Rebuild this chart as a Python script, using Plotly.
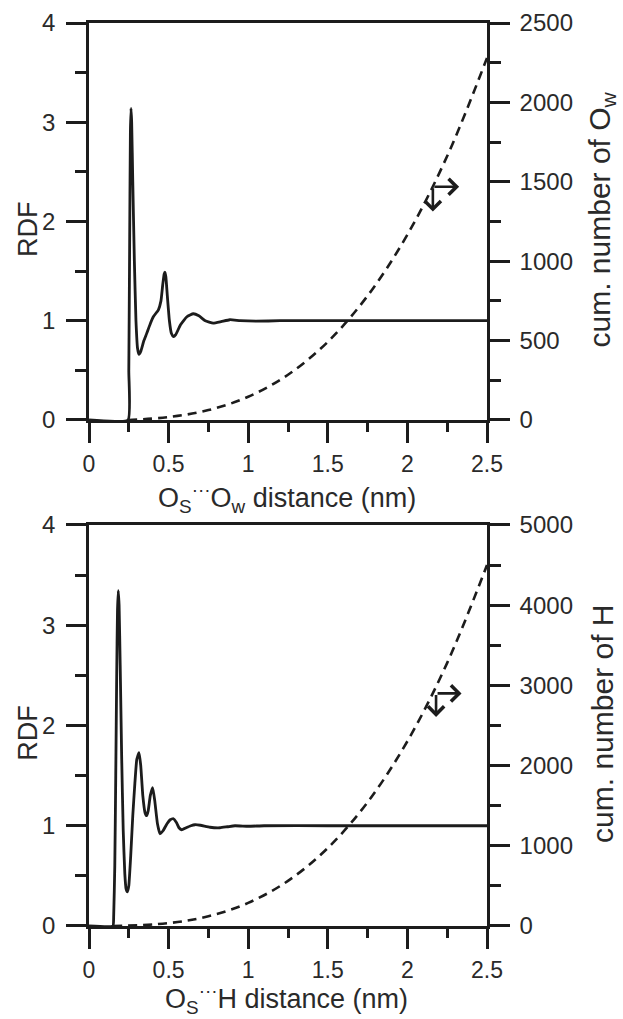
import plotly.graph_objects as go

# ---------------- data ----------------
# Top panel: O_S...O_w radial distribution function
r_oo = [0.0, 0.245, 0.25, 0.255, 0.26, 0.264, 0.268, 0.275, 0.285, 0.295, 0.305, 0.314,
        0.325, 0.345, 0.362, 0.385, 0.404, 0.436, 0.452, 0.463, 0.472, 0.477, 0.483,
        0.492, 0.505, 0.518, 0.53, 0.545, 0.575, 0.615, 0.655, 0.69, 0.73, 0.78, 0.83,
        0.885, 0.95, 1.05, 1.2, 1.5, 2.0, 2.5]
g_oo = [0.0, 0.0, 0.5, 1.7, 2.9, 3.14, 3.0, 2.4, 1.6, 1.0, 0.72, 0.66,
        0.69, 0.8, 0.87, 0.97, 1.04, 1.11, 1.2, 1.36, 1.47, 1.49, 1.44,
        1.25, 1.0, 0.87, 0.84, 0.86, 0.96, 1.04, 1.07, 1.05, 1.0, 0.975, 0.99,
        1.01, 1.0, 0.995, 1.0, 1.0, 1.0, 1.0]

# Top panel: cumulative number of O_w
r_cum_ow = [0.245, 0.5, 0.75, 1.0, 1.25, 1.5, 1.75, 2.0, 2.25, 2.5]
n_ow = [0, 18, 62, 146, 285, 492, 782, 1167, 1662, 2280]

# Bottom panel: O_S...H radial distribution function
r_oh = [0.0, 0.15, 0.155, 0.162, 0.168, 0.174, 0.179, 0.184, 0.189, 0.196, 0.205, 0.215,
        0.225, 0.233, 0.241, 0.25, 0.262, 0.275, 0.288, 0.30, 0.314, 0.325, 0.338,
        0.352, 0.362, 0.372, 0.385, 0.40, 0.413, 0.43, 0.446, 0.465, 0.49, 0.51, 0.53,
        0.55, 0.565, 0.582, 0.61, 0.64, 0.666, 0.70, 0.76, 0.823, 0.87, 0.917, 1.0,
        1.1, 1.5, 2.0, 2.5]
g_oh = [0.0, 0.0, 0.1, 0.6, 1.5, 2.5, 3.15, 3.345, 3.2, 2.6, 1.7, 0.95,
        0.52, 0.37, 0.34, 0.4, 0.7, 1.1, 1.42, 1.66, 1.73, 1.6, 1.3,
        1.13, 1.10, 1.15, 1.3, 1.38, 1.25, 1.02, 0.92, 0.95, 1.02, 1.06, 1.07,
        1.03, 0.98, 0.96, 0.98, 1.0, 1.01, 1.005, 0.985, 0.98, 0.99, 1.0, 0.995,
        1.0, 1.0, 1.0, 1.0]

# Bottom panel: cumulative number of H
r_cum_h = [0.15, 0.5, 0.75, 1.0, 1.25, 1.5, 1.75, 2.0, 2.25, 2.5]
n_h = [0, 36, 122, 288, 563, 972, 1544, 2304, 3281, 4500]

x_ticks = [0, 0.5, 1, 1.5, 2, 2.5]
x_ticktext = ["0", "0.5", "1", "1.5", "2", "2.5"]

# ---------------- styling ----------------
INK = "#1c1c1c"
TXT = "#2a2a2a"
FONT = "Liberation Sans, Arial, sans-serif"
TICKF = dict(family=FONT, size=24, color=TXT)
XTICKF = dict(family=FONT, size=23, color=TXT)
LW = 2.6

fig = go.Figure()
fig.add_trace(go.Scatter(x=r_oo, y=g_oo, mode="lines", xaxis="x", yaxis="y",
                         line=dict(color=INK, width=2.8, shape="spline", smoothing=0.4),
                         showlegend=False))
fig.add_trace(go.Scatter(x=r_cum_ow, y=n_ow, mode="lines", xaxis="x", yaxis="y2",
                         line=dict(color=INK, width=2.6, dash="9px,6px", shape="spline"),
                         showlegend=False))
fig.add_trace(go.Scatter(x=r_oh, y=g_oh, mode="lines", xaxis="x2", yaxis="y3",
                         line=dict(color=INK, width=2.8, shape="spline", smoothing=0.4),
                         showlegend=False))
fig.add_trace(go.Scatter(x=r_cum_h, y=n_h, mode="lines", xaxis="x2", yaxis="y4",
                         line=dict(color=INK, width=2.6, dash="9px,6px", shape="spline"),
                         showlegend=False))

top_dom = [0.5604, 1.0]
bot_dom = [0.0, 0.4441]


def xax(anchor):
    return dict(domain=[0, 1], anchor=anchor, range=[0, 2.5], showline=True,
                linecolor=INK, linewidth=LW, mirror=True, showgrid=False, zeroline=False,
                ticks="outside", ticklen=20, tickwidth=LW, tickcolor=INK,
                tickvals=x_ticks, ticktext=x_ticktext, tickfont=XTICKF,
                ticklabelstandoff=2,
                minor=dict(dtick=0.25, tick0=0, ticks="outside", ticklen=9,
                           tickwidth=LW, tickcolor=INK, showgrid=False))


def yax_left(dom, anchor):
    return dict(domain=dom, anchor=anchor, range=[0, 4], showline=True, linecolor=INK,
                linewidth=LW, showgrid=False, zeroline=False, ticks="outside",
                ticklen=20, tickwidth=LW, tickcolor=INK, dtick=1, tick0=0,
                tickfont=TICKF, ticklabelstandoff=6,
                minor=dict(dtick=0.5, tick0=0, ticks="outside", ticklen=11,
                           tickwidth=LW, tickcolor=INK, showgrid=False))


def yax_right(over, anchor, top, step):
    return dict(overlaying=over, anchor=anchor, side="right", range=[0, top],
                showline=True, linecolor=INK, linewidth=LW, showgrid=False,
                zeroline=False, ticks="outside", ticklen=20, tickwidth=LW,
                tickcolor=INK, dtick=step, tick0=0, tickfont=TICKF,
                ticklabelstandoff=5,
                minor=dict(dtick=step / 2, tick0=0, ticks="outside", ticklen=11,
                           tickwidth=LW, tickcolor=INK, showgrid=False))


fig.update_layout(
    width=623, height=1019,
    margin=dict(l=89, r=136, t=23, b=93, autoexpand=False),
    paper_bgcolor="white", plot_bgcolor="white",
    font=dict(family=FONT, color=TXT),
    xaxis=xax("y"),
    yaxis=yax_left(top_dom, "x"),
    yaxis2=yax_right("y", "x", 2500, 500),
    xaxis2=xax("y3"),
    yaxis3=yax_left(bot_dom, "x2"),
    yaxis4=yax_right("y3", "x2", 5000, 1000),
)

ann = []


def title(text, x, y, size, angle=0):
    return dict(text=text, x=x, y=y, xref="paper", yref="paper", showarrow=False,
                xanchor="center", yanchor="middle", textangle=angle,
                font=dict(family=FONT, size=size, color=TXT))


# axis titles
ann.append(title("RDF", -0.153, 0.772, 27, -90))
ann.append(title("RDF", -0.153, 0.214, 27, -90))
ann.append(title("cum. number of O<sub>w</sub>", 1.288, 0.782, 30, -90))
ann.append(title("cum. number of H", 1.292, 0.224, 30, -90))
ann.append(title("O<sub>S</sub><sup>···</sup>O<sub>w</sub> distance (nm)",
                 0.497, 0.4745, 27))
ann.append(title("O<sub>S</sub><sup>···</sup>H distance (nm)",
                 0.497, -0.0812, 27))

# corner arrows indicating which axis the dashed curve belongs to
arrow_style = dict(text="", showarrow=True, arrowhead=4, arrowsize=1.2,
                   arrowwidth=2.6, arrowcolor=INK, standoff=0, startstandoff=0)
for xr, yr, cx, cy, hx, hy in [("x", "y", 2.16, 2.35, 2.325, 2.10),
                               ("x2", "y3", 2.18, 2.32, 2.34, 2.085)]:
    ann.append(dict(xref=xr, yref=yr, axref=xr, ayref=yr, x=hx, y=cy, ax=cx, ay=cy,
                    **arrow_style))
    ann.append(dict(xref=xr, yref=yr, axref=xr, ayref=yr, x=cx, y=hy, ax=cx, ay=cy,
                    **arrow_style))
fig.update_layout(annotations=ann)

fig.write_html("out.html", config={"displayModeBar": False},
               post_script="document.body.style.margin='0';"
                           "document.body.style.overflow='hidden';")
